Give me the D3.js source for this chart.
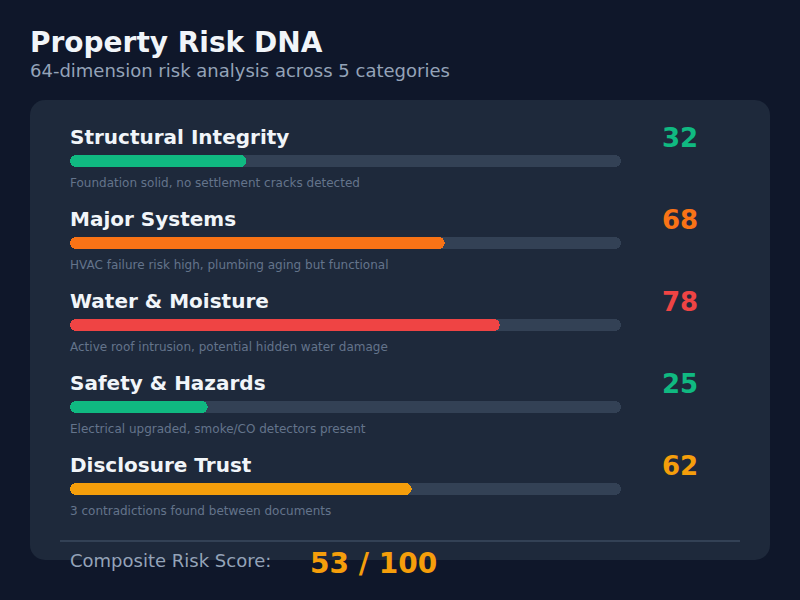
<!DOCTYPE html>
<html><head><meta charset="utf-8">
<script src="https://cdn.jsdelivr.net/npm/d3@7"></script>
<style>html,body{margin:0;padding:0;background:#0f172a;}svg{display:block;font-family:"DejaVu Sans",sans-serif;}</style>
</head><body>
<svg id="c" width="800" height="600"></svg>
<script>
const categories = ["Structural Integrity","Major Systems","Water & Moisture","Safety & Hazards","Disclosure Trust"];
const scores = [32, 68, 78, 25, 62];
const notes = ["Foundation solid, no settlement cracks detected","HVAC failure risk high, plumbing aging but functional","Active roof intrusion, potential hidden water damage","Electrical upgraded, smoke/CO detectors present","3 contradictions found between documents"];
const barColors = ["#10b981","#f97316","#ef4444","#10b981","#f59e0b"];
const composite = 53;

const svg = d3.select("#c");
svg.append("rect").attr("width",800).attr("height",600).attr("fill","#0f172a");
svg.append("text").attr("x",30).attr("y",52).attr("fill","#f1f5f9").attr("font-size",28).attr("font-weight","bold").text("Property Risk DNA");
svg.append("text").attr("x",30).attr("y",77).attr("fill","#94a3b8").attr("font-size",18).text("64-dimension risk analysis across 5 categories");
svg.append("rect").attr("x",30).attr("y",100).attr("width",740).attr("height",460).attr("rx",15).attr("fill","#1e293b");

const x = d3.scaleLinear().domain([0,100]).range([0,551]);
const y = d3.scaleBand().domain(categories).range([119,529]).paddingInner(0);

const g = svg.append("g").attr("transform","translate(70,0)");
const rows = g.selectAll("g.row").data(categories).join("g").attr("class","row")
  .attr("transform",d=>`translate(0,${y(d)})`);
rows.append("text").attr("x",0).attr("y",25).attr("fill","#f1f5f9").attr("font-size",20).attr("font-weight","bold").text(d=>d);
rows.append("rect").attr("x",0).attr("y",36).attr("width",x(100)).attr("height",12).attr("rx",6).attr("fill","#334155").attr("shape-rendering","crispEdges");
rows.append("rect").attr("x",0).attr("y",36).attr("width",(d,i)=>x(scores[i])).attr("height",12).attr("rx",6).attr("fill",(d,i)=>barColors[i]).attr("shape-rendering","crispEdges");
rows.append("text").attr("x",0).attr("y",68).attr("fill","#64748b").attr("font-size",12).text((d,i)=>notes[i]);
rows.append("text").attr("x",610).attr("y",28).attr("text-anchor","middle").attr("fill",(d,i)=>barColors[i]).attr("font-size",26).attr("font-weight","bold").text((d,i)=>scores[i]);

svg.append("line").attr("x1",60).attr("x2",740).attr("y1",541).attr("y2",541).attr("stroke","#334155").attr("stroke-width",2);
svg.append("text").attr("x",70).attr("y",567).attr("fill","#94a3b8").attr("font-size",18).text("Composite Risk Score:");
svg.append("text").attr("x",310).attr("y",573).attr("fill","#f59e0b").attr("font-size",28).attr("font-weight","bold").text(`${composite} / 100`);
</script>
</body></html>
